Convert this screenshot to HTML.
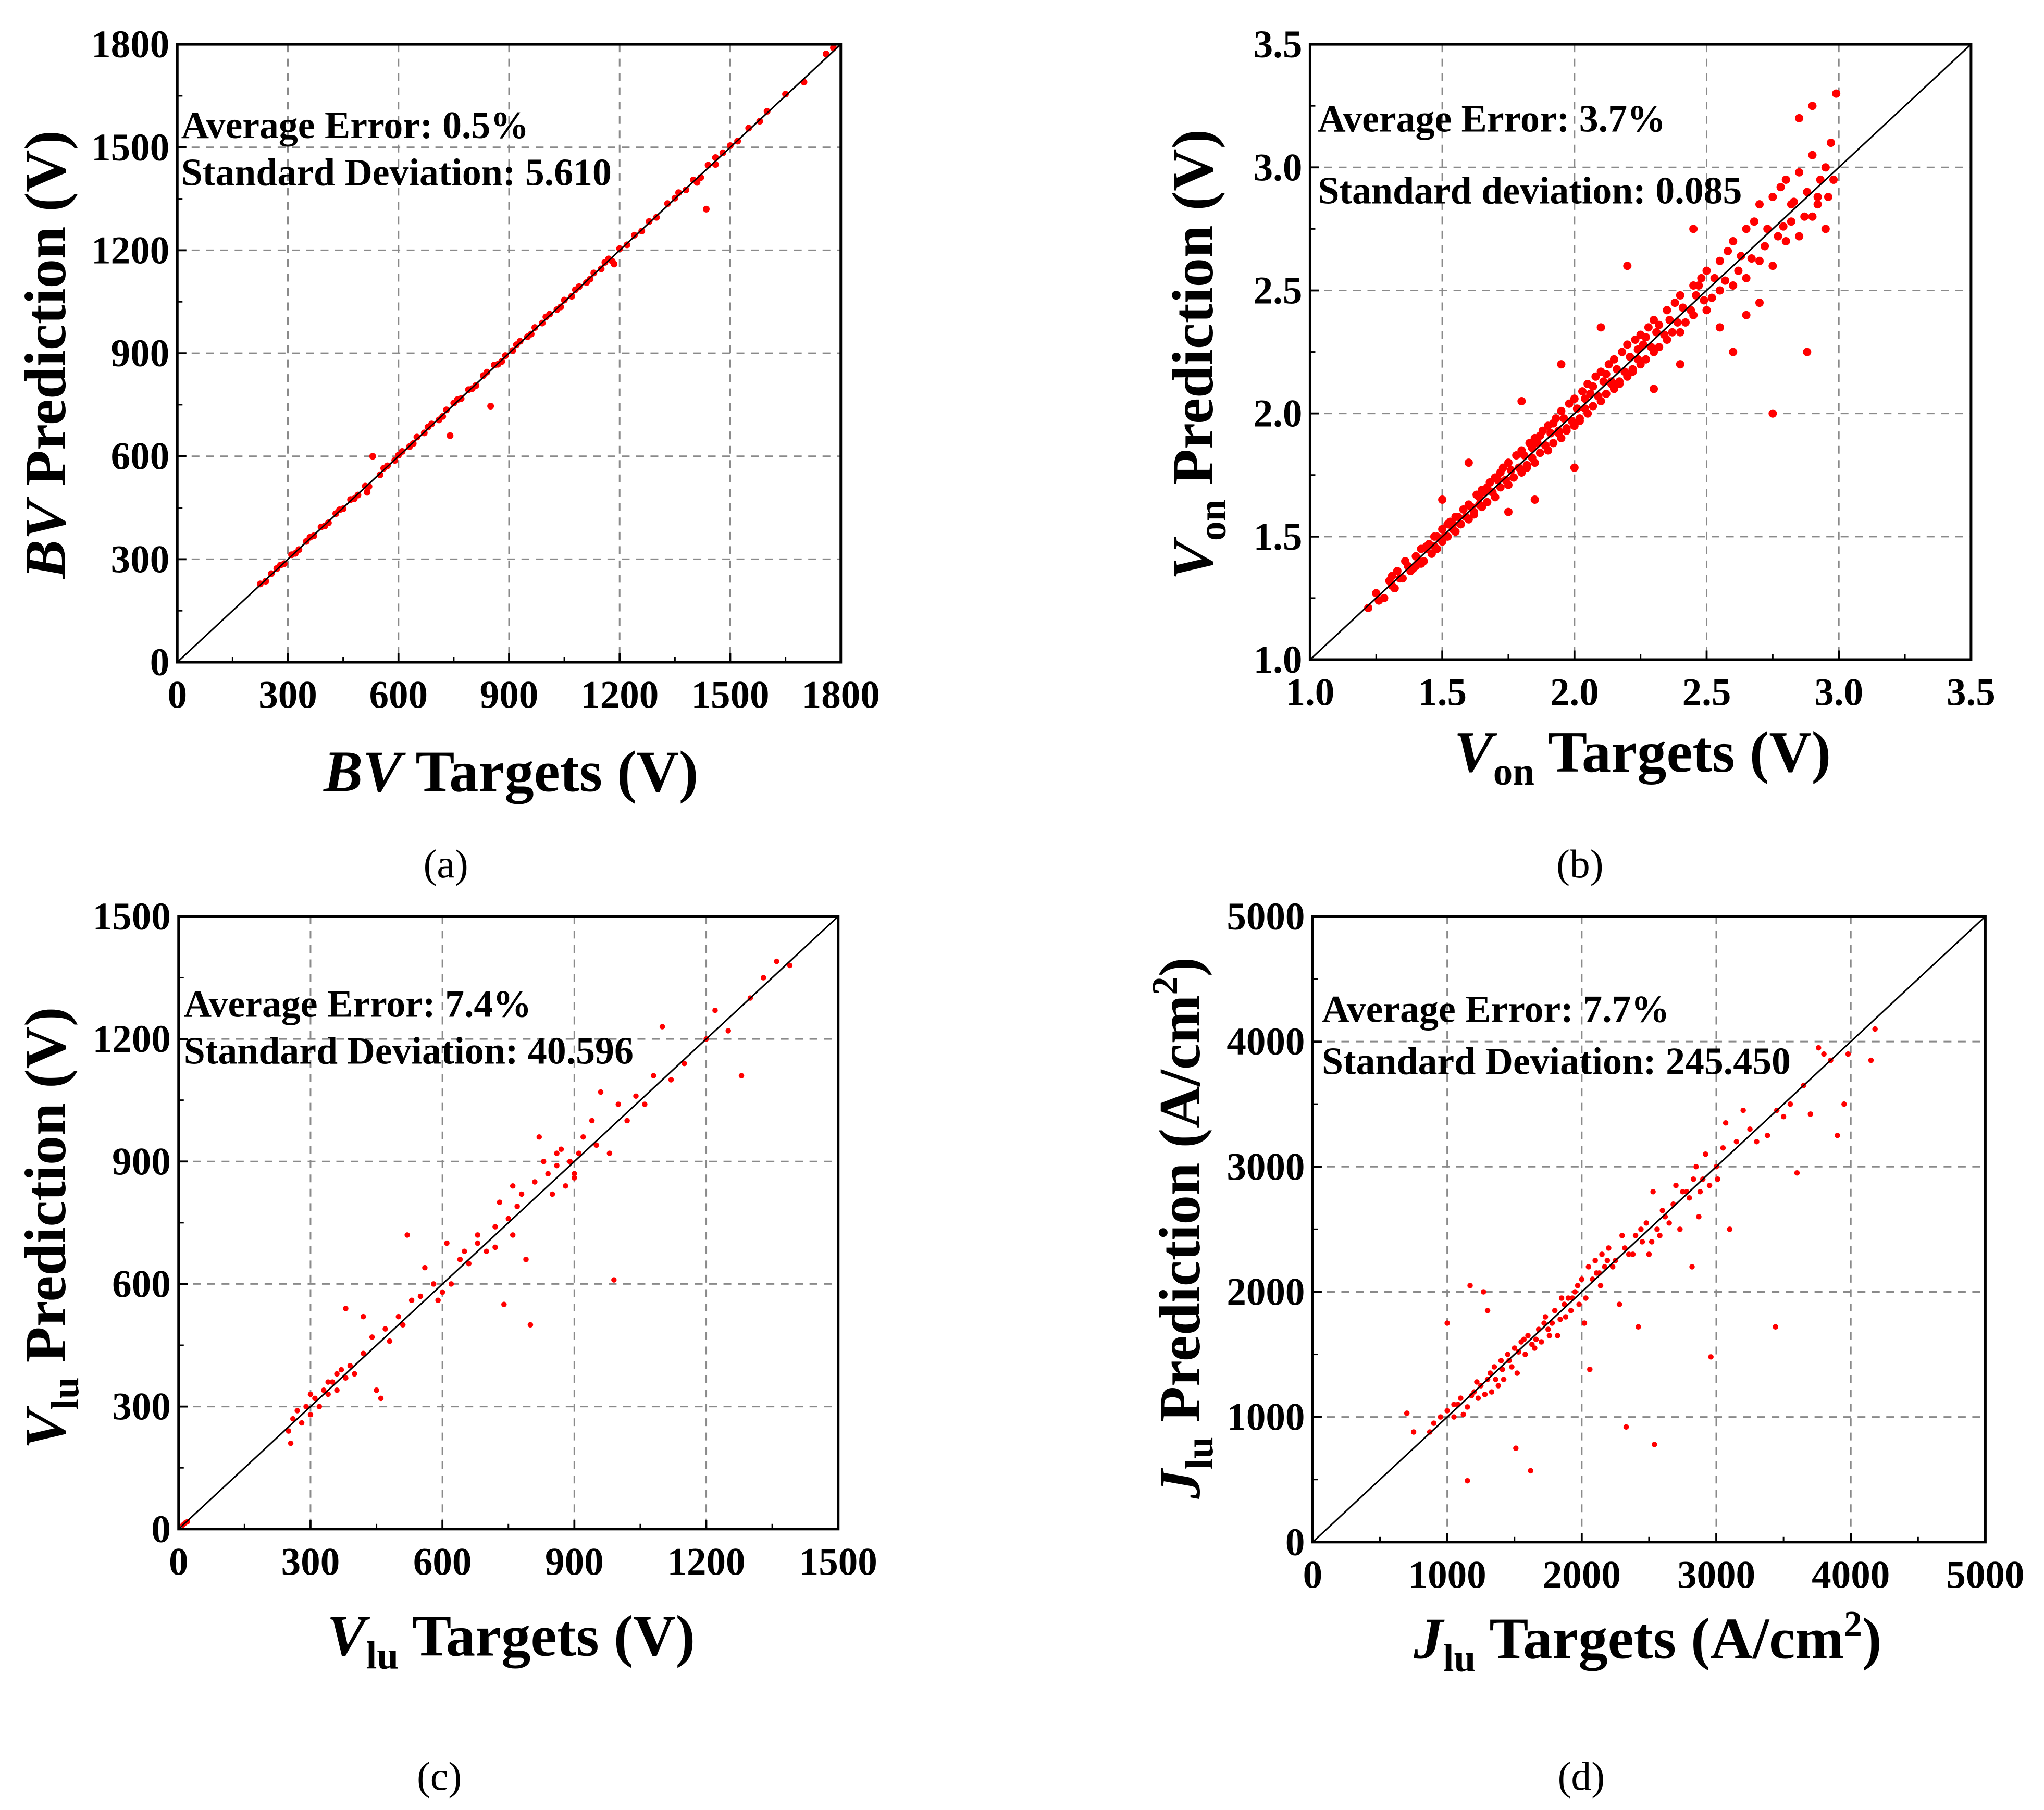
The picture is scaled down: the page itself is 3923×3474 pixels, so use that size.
<!DOCTYPE html>
<html><head><meta charset="utf-8"><style>
html,body{margin:0;padding:0;background:#fff;}
svg{display:block;font-family:"Liberation Serif",serif;}
.tk{font-size:30px;font-weight:bold;fill:#000;}
.ti{font-size:45px;font-weight:bold;fill:#000;}
.an{font-size:29.5px;font-weight:bold;fill:#000;}
.cp{font-size:31px;fill:#000;}
</style></head><body>
<svg id="fig" width="3923" height="3474" viewBox="0 0 1568 1388.5" xmlns="http://www.w3.org/2000/svg">
<rect width="1568" height="1388.5" fill="#fff"/>
<g id="pa"></g>
<g id="pb"></g>
<g id="pc"></g>
<g id="pd"></g>

<text class="an" x="139" y="106">Average Error: 0.5%</text>
<text class="an" x="139" y="142">Standard Deviation: 5.610</text>
<text class="ti" x="392" y="607" text-anchor="middle"><tspan font-style="italic">BV</tspan> Targets (V)</text>
<text class="ti" transform="translate(50,272) rotate(-90)" text-anchor="middle"><tspan font-style="italic">BV</tspan> Prediction (V)</text>
<text class="cp" x="342" y="673" text-anchor="middle">(a)</text>

<text class="an" x="1011" y="101">Average Error: 3.7%</text>
<text class="an" x="1011" y="156">Standard deviation: 0.085</text>
<text class="ti" x="1260" y="592" text-anchor="middle"><tspan font-style="italic">V</tspan><tspan font-size="30" dy="10">on</tspan><tspan dy="-10"> Targets (V)</tspan></text>
<text class="ti" transform="translate(930,272) rotate(-90)" text-anchor="middle"><tspan font-style="italic">V</tspan><tspan font-size="30" dy="10">on</tspan><tspan dy="-10"> Prediction (V)</tspan></text>
<text class="cp" x="1212" y="673" text-anchor="middle">(b)</text>

<text class="an" x="141" y="780">Average Error: 7.4%</text>
<text class="an" x="141" y="816">Standard Deviation: 40.596</text>
<text class="ti" x="392" y="1270" text-anchor="middle"><tspan font-style="italic">V</tspan><tspan font-size="30" dy="10">lu</tspan><tspan dy="-10"> Targets (V)</tspan></text>
<text class="ti" transform="translate(50,942) rotate(-90)" text-anchor="middle"><tspan font-style="italic">V</tspan><tspan font-size="30" dy="10">lu</tspan><tspan dy="-10"> Prediction (V)</tspan></text>
<text class="cp" x="337" y="1373" text-anchor="middle">(c)</text>

<text class="an" x="1014" y="784">Average Error: 7.7%</text>
<text class="an" x="1014" y="824">Standard Deviation: 245.450</text>
<text class="ti" x="1264" y="1272" text-anchor="middle"><tspan font-style="italic">J</tspan><tspan font-size="30" dy="10">lu</tspan><tspan dy="-10"> Targets (A/cm</tspan><tspan font-size="28" dy="-17">2</tspan><tspan dy="17">)</tspan></text>
<text class="ti" transform="translate(920,942) rotate(-90)" text-anchor="middle"><tspan font-style="italic">J</tspan><tspan font-size="30" dy="10">lu</tspan><tspan dy="-10"> Prediction (A/cm</tspan><tspan font-size="28" dy="-17">2</tspan><tspan dy="17">)</tspan></text>
<text class="cp" x="1213" y="1373" text-anchor="middle">(d)</text>
</svg>
<script>
// Panel (a) BV
const aTicks = [0,300,600,900,1200,1500,1800];
const aTarget = [225,240,255,270,290,310,330,350,370,390,410,430,450,470,490,510,515,530,550,570,590,610,630,650,670,690,710,730,740,750,770,790,810,830,850,860,870,890,910,930,950,970,990,1010,1030,1050,1070,1090,1110,1130,1150,1170,1185,1200,1220,1240,1260,1280,1300,1330,1350,1360,1380,1400,1420,1435,1440,1460,1480,1500,1520,1550,1580,1600,1650,1700,1760,1780,280,320,360,400,440,480,520,560,600,640,680,720,760,800,840,880,920,960,1000,1040,1080,1120,1160,1180,1410,1460];
const aPred = [228,236,258,273,287,313,328,352,368,394,406,433,447,474,487,513,495,600,546,572,588,614,628,656,668,694,706,735,660,755,768,794,806,835,746,866,868,893,908,935,948,975,988,1014,1027,1055,1066,1094,1106,1134,1146,1175,1160,1205,1216,1244,1256,1284,1296,1336,1352,1368,1376,1405,1412,1320,1448,1450,1484,1505,1518,1556,1576,1605,1655,1690,1772,1790,283,317,364,397,444,476,512,565,603,637,685,716,765,797,845,876,925,956,1006,1035,1085,1116,1165,1168,1398,1470];
// Panel (b) Von
const bTicks = [1.0,1.5,2.0,2.5,3.0,3.5];
const bTickLabels = ["1.0","1.5","2.0","2.5","3.0","3.5"];
const bTarget = [1.22,1.25,1.28,1.30,1.32,1.33,1.35,1.36,1.38,1.40,1.40,1.42,1.43,1.45,1.46,1.48,1.48,1.50,1.50,1.52,1.53,1.55,1.55,1.57,1.58,1.60,1.60,1.62,1.63,1.65,1.65,1.67,1.68,1.70,1.70,1.72,1.73,1.75,1.75,1.77,1.78,1.80,1.80,1.82,1.83,1.85,1.85,1.87,1.88,1.90,1.90,1.92,1.93,1.95,1.95,1.97,1.98,2.00,2.00,2.02,2.03,2.05,2.05,2.07,2.08,2.10,2.10,2.12,2.13,2.15,2.15,2.17,2.18,2.20,2.20,2.22,2.23,2.25,2.25,2.27,2.28,2.30,2.30,2.32,2.35,2.35,2.38,2.40,2.40,2.42,2.45,2.45,2.48,2.50,2.50,2.52,2.55,2.55,2.58,2.60,2.60,2.62,2.65,2.65,2.68,2.70,2.70,2.72,2.75,2.75,2.78,2.80,2.80,2.82,2.85,2.85,2.88,2.90,2.90,2.92,2.95,2.95,2.97,2.98,2.99,2.90,2.85,2.88,2.75,2.60,2.65,2.40,2.30,2.20,2.10,2.00,1.95,1.80,1.75,1.60,1.50,1.85,2.45,2.55,2.70,2.77,2.92,2.82,1.34,1.44,1.54,1.64,1.74,1.84,1.94,2.04,2.14,2.24,1.26,1.31,1.37,1.41,1.44,1.47,1.51,1.54,1.56,1.59,1.61,1.64,1.66,1.69,1.71,1.74,1.76,1.79,1.81,1.84,1.86,1.89,1.91,1.94,1.96,1.99,2.01,2.04,2.06,2.09,2.11,2.14,2.16,2.19,2.21,2.24,2.26,2.29,2.31,2.34,2.36,2.39,2.41,2.44,2.46,2.49,2.53,2.57,2.63,2.67,2.73,2.79,2.83,2.87,2.93,2.96,1.31,1.39,1.47,1.57,1.67,1.77,1.87,1.97,2.07,2.17,2.27,2.37,2.47,1.42,1.52,1.62,1.72,1.82,1.92,2.02,2.12,2.22,2.32];
const bPred = [1.21,1.27,1.25,1.32,1.29,1.36,1.33,1.40,1.36,1.42,1.38,1.45,1.40,1.47,1.43,1.50,1.45,1.53,1.48,1.50,1.56,1.52,1.58,1.55,1.61,1.57,1.63,1.60,1.67,1.62,1.69,1.64,1.72,1.66,1.74,1.70,1.78,1.71,1.80,1.74,1.83,1.76,1.85,1.79,1.88,1.80,1.90,1.84,1.93,1.85,1.95,1.88,1.98,1.90,2.01,1.93,2.04,1.95,2.06,1.97,2.09,2.00,2.12,2.03,2.15,2.05,2.17,2.08,2.20,2.10,2.22,2.12,2.25,2.15,2.28,2.17,2.30,2.20,2.32,2.22,2.35,2.25,2.38,2.27,2.42,2.30,2.45,2.33,2.48,2.37,2.52,2.40,2.55,2.42,2.58,2.47,2.62,2.50,2.66,2.52,2.70,2.58,2.75,2.55,2.78,2.62,2.85,2.68,2.88,2.60,2.92,2.70,2.95,2.78,2.98,2.72,2.90,2.80,3.05,2.85,3.00,2.75,3.10,2.95,3.30,3.25,3.20,2.25,2.00,2.25,2.40,2.20,2.10,2.60,2.35,1.78,2.20,2.05,1.60,1.80,1.65,1.65,2.75,2.35,2.45,2.72,2.88,2.85,1.33,1.45,1.53,1.66,1.73,1.86,1.93,2.06,2.13,2.26,1.24,1.30,1.38,1.40,1.46,1.46,1.50,1.55,1.58,1.58,1.62,1.63,1.68,1.68,1.73,1.73,1.77,1.78,1.83,1.82,1.88,1.87,1.92,1.92,1.98,1.97,2.02,2.02,2.08,2.07,2.13,2.12,2.18,2.17,2.23,2.22,2.28,2.27,2.33,2.32,2.38,2.37,2.43,2.42,2.48,2.46,2.55,2.54,2.64,2.63,2.75,2.76,2.86,2.80,2.95,2.88,1.34,1.37,1.50,1.55,1.70,1.74,1.91,1.94,2.11,2.13,2.31,2.33,2.52,1.39,1.55,1.59,1.76,1.78,1.96,1.98,2.16,2.18,2.36];
// Panel (c) Vlu
const cTicks = [0,300,600,900,1200,1500];
const cTarget = [10,15,20,250,255,260,270,280,290,300,310,320,330,340,350,360,370,380,390,400,420,440,450,460,470,480,500,510,520,530,550,560,580,590,600,610,620,640,650,660,680,700,720,730,740,750,760,770,780,790,800,810,820,830,840,850,860,870,880,890,900,910,920,940,960,980,990,1000,1020,1040,1060,1080,1100,1120,1150,1200,1220,1250,1280,1300,1330,1360,1390,380,420,300,340,360,760,720,680,860,900,950];
const cPred = [10,15,18,240,210,270,290,260,300,280,320,300,340,330,360,340,390,370,400,380,430,470,340,320,490,460,520,500,720,560,570,640,600,560,580,700,600,660,680,650,700,680,740,800,550,760,720,790,820,660,500,850,960,900,870,820,890,930,840,900,870,920,960,1000,1070,920,610,1040,1000,1060,1040,1110,1230,1100,1140,1200,1270,1220,1110,1300,1350,1390,1380,540,520,330,360,380,840,690,720,920,860,940];
// Panel (d) Jlu
const dTicks = [0,1000,2000,3000,4000,5000];
const dTarget = [700,750,870,900,950,1000,1000,1050,1080,1100,1150,1150,1170,1200,1230,1250,1270,1300,1300,1330,1350,1380,1400,1420,1450,1480,1500,1510,1520,1550,1580,1600,1620,1650,1680,1700,1730,1750,1780,1800,1820,1850,1880,1900,1920,1950,1980,2000,2020,2050,2060,2080,2100,2130,2150,2170,2200,2250,2280,2300,2330,2350,2400,2420,2450,2480,2500,2530,2540,2560,2600,2650,2700,2750,2800,2820,2850,2870,2900,2950,2960,3000,3050,3100,3150,3200,3250,3300,3380,3440,3450,3500,3550,3600,3650,3700,3760,3800,3850,3900,3950,3980,4150,4180,1050,1120,1180,1220,1280,1320,1360,1410,1460,1530,1570,1630,1660,1720,1760,1840,1870,1930,1970,2030,2110,2140,2190,2230,2320,2380,2440,2520,2580,2620,2680,2730,2780,2830,2880,2920,3010,3070];
const dPred = [1030,880,880,950,1000,1050,1750,1000,1100,1150,1080,490,2050,1200,1150,1250,2000,1300,1850,1200,1400,1250,1450,1300,1500,1400,1550,750,1350,1600,1500,1650,570,1550,1700,1600,1800,1700,1750,1850,1650,1950,1800,1950,1850,2000,1900,2100,1750,2200,1380,2100,2250,2150,2300,2200,2350,2250,1900,2450,920,2300,2450,1720,2400,2550,2300,2800,780,2500,2650,2550,2850,2800,2750,2200,3000,2600,2900,2850,1480,3000,3150,2500,3200,3450,3300,3200,3250,1720,3450,3400,3500,2950,3650,3420,3950,3900,3850,3250,3500,3900,3850,4100,1100,1020,1170,1280,1180,1350,1300,1380,1450,1520,1620,1580,1620,1750,1650,1780,1900,1950,2050,1950,2150,2050,2250,2200,2350,2300,2500,2400,2450,2600,2700,2500,2800,2900,2800,3100,2900,3350];

const NS = "http://www.w3.org/2000/svg";
function add(parent, tag, attrs, name) {
  const el = document.createElementNS(NS, tag);
  for (const k in attrs) el.setAttribute(k, attrs[k]);
  
  
  parent.appendChild(el);
  return el;
}
function panel(id, box, ticks, labels, xs, ys, r) {
  const g = document.getElementById(id);
  const lo = ticks[0], hi = ticks[ticks.length - 1];
  const sx = v => box.l + (v - lo) / (hi - lo) * (box.r - box.l);
  const sy = v => box.b - (v - lo) / (hi - lo) * (box.b - box.t);
  ticks.forEach((t, i) => {
    if (i > 0 && i < ticks.length - 1) {
      add(g, 'line', {x1: sx(t), x2: sx(t), y1: box.t, y2: box.b, stroke: '#8a8a8a', 'stroke-width': 1.2, 'stroke-dasharray': '6,5'}, 'grid-line-x');
      add(g, 'line', {x1: box.l, x2: box.r, y1: sy(t), y2: sy(t), stroke: '#8a8a8a', 'stroke-width': 1.2, 'stroke-dasharray': '6,5'}, 'grid-line-y');
    }
    add(g, 'line', {x1: sx(t), x2: sx(t), y1: box.b, y2: box.b - 7, stroke: '#000', 'stroke-width': 1.5}, 'x-major-tick');
    add(g, 'line', {x1: box.l, x2: box.l + 7, y1: sy(t), y2: sy(t), stroke: '#000', 'stroke-width': 1.5}, 'y-major-tick');
    if (i < ticks.length - 1) {
      const m = (t + ticks[i + 1]) / 2;
      add(g, 'line', {x1: sx(m), x2: sx(m), y1: box.b, y2: box.b - 4, stroke: '#000', 'stroke-width': 1.2}, 'x-minor-tick');
      add(g, 'line', {x1: box.l, x2: box.l + 4, y1: sy(m), y2: sy(m), stroke: '#000', 'stroke-width': 1.2}, 'y-minor-tick');
    }
    const lab = labels ? labels[i] : String(t);
    const tx = add(g, 'text', {x: sx(t), y: box.b + 35, 'text-anchor': 'middle', class: 'tk'}, 'x-tick-label');
    tx.textContent = lab;
    const ty = add(g, 'text', {x: box.l - 6, y: sy(t) + 10, 'text-anchor': 'end', class: 'tk'}, 'y-tick-label');
    ty.textContent = lab;
  });
  add(g, 'line', {x1: sx(lo), y1: sy(lo), x2: sx(hi), y2: sy(hi), stroke: '#000', 'stroke-width': 1.2}, 'identity-line');
  xs.forEach((x, i) => {
    add(g, 'circle', {cx: sx(x), cy: sy(ys[i]), r: r, fill: '#ff0000'}, 'data-point');
  });
  add(g, 'line', {x1: sx(lo), y1: sy(lo), x2: sx(hi), y2: sy(hi), stroke: '#000', 'stroke-width': 1}, 'identity-line-overlay');
  add(g, 'rect', {x: box.l, y: box.t, width: box.r - box.l, height: box.b - box.t, fill: 'none', stroke: '#000', 'stroke-width': 2}, 'plot-frame');
}
panel('pa', {l: 136, r: 645, t: 34, b: 508}, aTicks, null, aTarget, aPred, 2.6);
panel('pb', {l: 1005, r: 1512, t: 34, b: 506}, bTicks, bTickLabels, bTarget, bPred, 3.2);
panel('pc', {l: 137, r: 643, t: 703, b: 1173}, cTicks, null, cTarget, cPred, 2.1);
panel('pd', {l: 1007, r: 1523, t: 703, b: 1183}, dTicks, null, dTarget, dPred, 2.1);
</script>
</body></html>
